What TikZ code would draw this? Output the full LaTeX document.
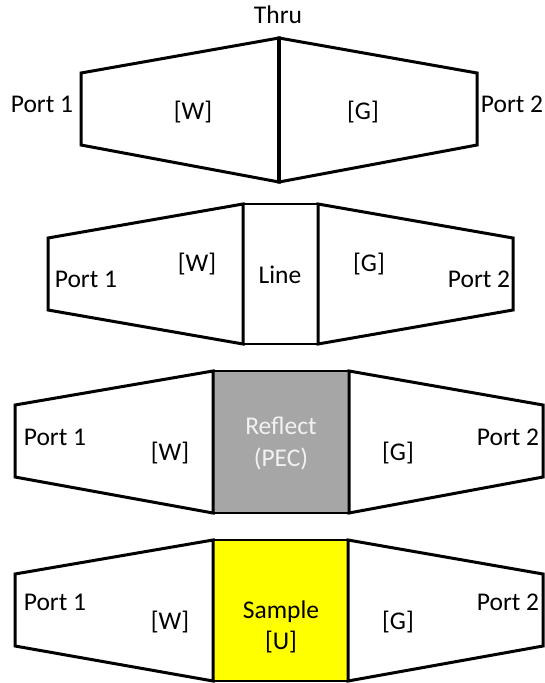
\documentclass[tikz,border=0pt]{standalone}
\usepackage{fontspec}
\setmainfont{Carlito}
\definecolor{pecgray}{HTML}{A6A6A6}
\definecolor{pectext}{HTML}{F2F2F2}
\definecolor{sampleyellow}{HTML}{FFFF00}
\begin{document}
\begin{tikzpicture}[x=1pt,y=-1pt,
  taper/.style={draw=black, line width=3pt, line join=miter},
  spine/.style={draw=black, line width=4.5pt},
  slab/.style={draw=black, line width=2pt},
  lbl/.style={inner sep=0pt, text=black, font=\fontsize{25.5}{29}\selectfont},
  pec/.style={lbl, text=pectext, align=center}]
\useasboundingbox (0,0) rectangle (544,683);
\fill[white] (0,0) rectangle (544,683);

% ---- Thru: two tapers joined back to back
\path[taper] (81,73) -- (279,38) -- (279,182) -- (81,145) -- cycle;
\path[taper] (279,38) -- (477,73) -- (477,145) -- (279,182) -- cycle;
\coordinate (t1) at (279,38);
\coordinate (t2) at (279,182);
\draw[spine] (t1) -- (t2);
\node[lbl] (thru)  at (278,15)  {Thru};
\node[lbl] (p1a)   at (42,104)  {Port 1};
\node[lbl] (p2a)   at (512,104) {Port 2};
\node[lbl] (wa)    at (193,112) {[W]};
\node[lbl] (ga)    at (363,112) {[G]};

% ---- Line: tapers separated by a short line section
\path[slab] (243,204) rectangle (318,344);
\path[taper] (48,238) -- (243,204) -- (243,344) -- (48,310) -- cycle;
\path[taper] (318,204) -- (513,238) -- (513,310) -- (318,344) -- cycle;
\node[lbl] (line)  at (280,275) {Line};
\node[lbl] (p1b)   at (86,279)  {Port 1};
\node[lbl] (p2b)   at (479,279) {Port 2};
\node[lbl] (wb)    at (197,264) {[W]};
\node[lbl] (gb)    at (369,264) {[G]};

% ---- Reflect: perfect electric conductor between the tapers
\path[slab, fill=pecgray] (213,371) rectangle (349,513);
\path[taper] (15,405) -- (213,371) -- (213,513) -- (15,477) -- cycle;
\path[taper] (349,371) -- (543,405) -- (543,477) -- (349,513) -- cycle;
\node[pec] (refl)  at (281,426) {Reflect};
\node[pec] (pecl)  at (281,459) {(PEC)};
\node[lbl] (p1c)   at (55,437)  {Port 1};
\node[lbl] (p2c)   at (508,437) {Port 2};
\node[lbl] (wc)    at (170,453) {[W]};
\node[lbl] (gc)    at (398,453) {[G]};

% ---- Sample under test between the tapers
\path[slab, fill=sampleyellow] (213,540) rectangle (348,681);
\path[taper] (15,574) -- (213,540) -- (213,681) -- (15,646) -- cycle;
\path[taper] (348,540) -- (543,574) -- (543,646) -- (348,681) -- cycle;
\node[lbl] (samp)  at (281,612) {Sample};
\node[lbl] (uu)    at (281,642) {[U]};
\node[lbl] (p1d)   at (55,602)  {Port 1};
\node[lbl] (p2d)   at (508,602) {Port 2};
\node[lbl] (wd)    at (170,622) {[W]};
\node[lbl] (gd)    at (398,622) {[G]};
\end{tikzpicture}
\end{document}
